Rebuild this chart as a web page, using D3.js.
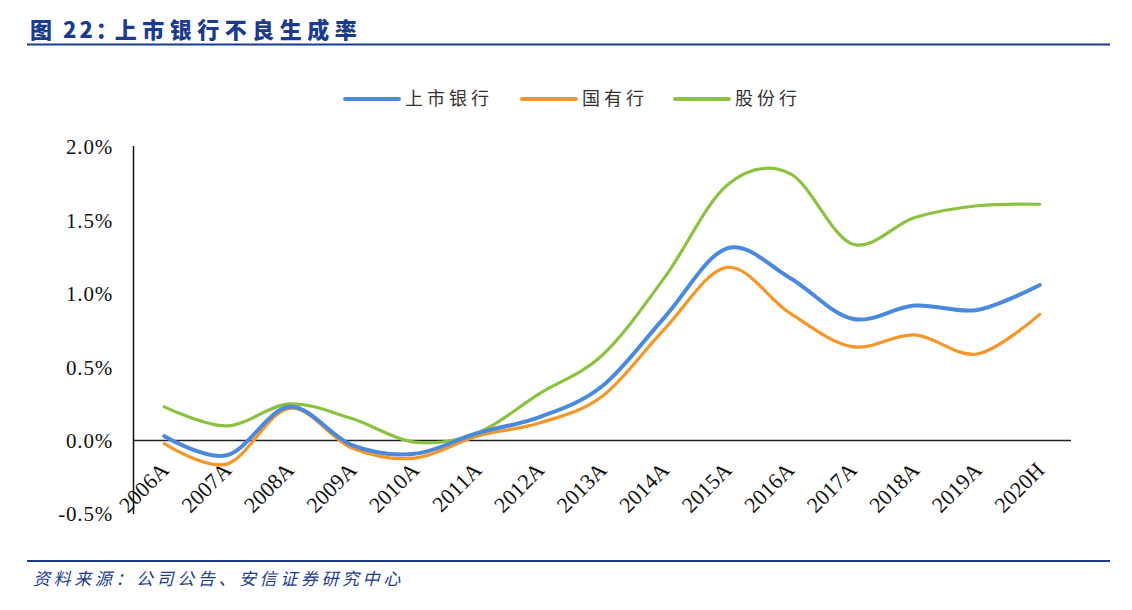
<!DOCTYPE html>
<html>
<head>
<meta charset="utf-8">
<script src="https://d3js.org/d3.v7.min.js"></script>
<style>
  body { margin: 0; background: #fff; }
  svg { display: block; }
</style>
</head>
<body>
<svg id="chart" width="1132" height="610"></svg>
<script>
// categories and series (non-performing loan generation rate, %)
const years = ["2006A", "2007A", "2008A", "2009A", "2010A", "2011A", "2012A", "2013A",
               "2014A", "2015A", "2016A", "2017A", "2018A", "2019A", "2020H"];
const listedBanks = [0.03, -0.10, 0.23, -0.03, -0.09, 0.05, 0.16, 0.37, 0.84, 1.31, 1.11, 0.83, 0.92, 0.89, 1.06];
const stateBanks  = [-0.02, -0.16, 0.22, -0.05, -0.12, 0.03, 0.12, 0.30, 0.76, 1.18, 0.87, 0.64, 0.72, 0.59, 0.86];
const jointBanks  = [0.23, 0.10, 0.25, 0.15, -0.01, 0.05, 0.32, 0.58, 1.11, 1.74, 1.82, 1.34, 1.52, 1.60, 1.61];
const yTicks = [-0.5, 0, 0.5, 1.0, 1.5, 2.0];

const series = [
  { name: "上市银行", values: listedBanks, color: "#4a89dc", width: 4 },
  { name: "国有行",   values: stateBanks,  color: "#f5962a", width: 3.2 },
  { name: "股份行",   values: jointBanks,  color: "#8cc141", width: 3.2 }
];

const svg = d3.select("#chart");
const navy = "#1b3b8f";

// title and rules
const title = svg.append("text")
  .attr("x", 30).attr("y", 38)
  .attr("font-family", "'Noto Sans CJK SC', sans-serif")
  .attr("font-weight", 900)
  .attr("font-size", 22)
  .attr("fill", navy);
title.append("tspan").attr("letter-spacing", 3).text("图 22：");
title.append("tspan").attr("dx", -6).attr("letter-spacing", 5.5).text("上市银行不良生成率");

svg.append("line")
  .attr("x1", 27).attr("x2", 1110).attr("y1", 44.5).attr("y2", 44.5)
  .attr("stroke", navy).attr("stroke-width", 2);

svg.append("line")
  .attr("x1", 27).attr("x2", 1110).attr("y1", 561).attr("y2", 561)
  .attr("stroke", navy).attr("stroke-width", 2);

svg.append("text")
  .attr("x", 33).attr("y", 585)
  .attr("font-family", "'Noto Sans CJK SC', sans-serif")
  .attr("font-style", "italic")
  .attr("font-size", 17)
  .attr("fill", navy)
  .attr("letter-spacing", 3.6)
  .text("资料来源：公司公告、安信证券研究中心");

// scales
const x = d3.scaleBand().domain(years).range([133, 1071]);
const y = d3.scaleLinear().domain([-0.5, 2.0]).range([514, 147]);

// y axis labels
svg.append("g")
  .selectAll("text")
  .data(yTicks)
  .join("text")
  .attr("x", 113)
  .attr("y", d => y(d))
  .attr("dy", "0.35em")
  .attr("text-anchor", "end")
  .attr("font-family", "'Liberation Serif', serif")
  .attr("font-size", 21)
  .attr("letter-spacing", 0.8)
  .attr("fill", "#111")
  .text(d => (d < 0 ? "-" : "") + Math.abs(d).toFixed(1) + "%");

// axis lines
svg.append("line")
  .attr("x1", 133.5).attr("x2", 133.5).attr("y1", 146).attr("y2", 514)
  .attr("stroke", "#111").attr("stroke-width", 1.5);
svg.append("line")
  .attr("x1", 133).attr("x2", 1071).attr("y1", y(0)).attr("y2", y(0))
  .attr("stroke", "#222").attr("stroke-width", 1.5);

// x labels, rotated
svg.append("g")
  .selectAll("text")
  .data(years)
  .join("text")
  .attr("transform", d => `translate(${x(d) + x.bandwidth() / 2 + 6},${y(0) + 31}) rotate(-45)`)
  .attr("text-anchor", "end")
  .attr("font-family", "'Liberation Serif', serif")
  .attr("font-size", 22)
  .attr("fill", "#111")
  .text(d => d);

// lines
const line = d3.line()
  .x((d, i) => x(years[i]) + x.bandwidth() / 2)
  .y(d => y(d))
  .curve(d3.curveCardinal.tension(0));

svg.append("g")
  .selectAll("path")
  .data(series.slice().reverse())
  .join("path")
  .attr("d", d => line(d.values))
  .attr("fill", "none")
  .attr("stroke", d => d.color)
  .attr("stroke-width", d => d.width)
  .attr("stroke-linecap", "round");

// legend
const legendX = [345, 522, 675];
const legend = svg.append("g")
  .selectAll("g")
  .data(series)
  .join("g")
  .attr("transform", (d, i) => `translate(${legendX[i]},99)`);

legend.append("line")
  .attr("x1", 0).attr("x2", 54)
  .attr("stroke", d => d.color)
  .attr("stroke-width", 4)
  .attr("stroke-linecap", "round");

legend.append("text")
  .attr("x", 60)
  .attr("dy", "0.36em")
  .attr("font-family", "'Noto Sans CJK SC', sans-serif")
  .attr("font-size", 18)
  .attr("letter-spacing", 4)
  .attr("fill", "#333")
  .text(d => d.name);
</script>
</body>
</html>
